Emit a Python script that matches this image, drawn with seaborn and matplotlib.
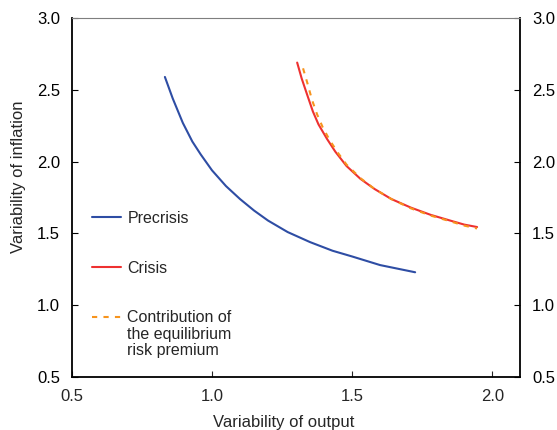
## Import necessary packages
import numpy as np
import pandas as pd
import matplotlib
matplotlib.use('Agg')
import matplotlib.pyplot as plt
import seaborn as sns

## Values
precrisis_x = [0.832, 0.86, 0.896, 0.93, 0.96, 1.0, 1.05, 1.1, 1.15, 1.2, 1.27, 1.35, 1.43, 1.5, 1.6, 1.725]
precrisis_y = [2.59, 2.44, 2.27, 2.14, 2.05, 1.94, 1.83, 1.74, 1.66, 1.59, 1.51, 1.44, 1.38, 1.34, 1.28, 1.23]

crisis_x = [1.304, 1.32, 1.339, 1.36, 1.38, 1.41, 1.44, 1.48, 1.53, 1.58, 1.64, 1.71, 1.78, 1.85, 1.90, 1.946]
crisis_y = [2.69, 2.58, 2.47, 2.35, 2.26, 2.16, 2.07, 1.97, 1.88, 1.81, 1.74, 1.68, 1.63, 1.59, 1.562, 1.545]

premium_x = [1.325, 1.34, 1.357, 1.375, 1.395, 1.42, 1.45, 1.48, 1.53, 1.58, 1.64, 1.71, 1.78, 1.85, 1.90, 1.946]
premium_y = [2.65, 2.55, 2.43, 2.33, 2.24, 2.15, 2.06, 1.98, 1.885, 1.81, 1.74, 1.675, 1.625, 1.585, 1.555, 1.535]

x_ticks = [0.5, 1.0, 1.5, 2.0]
y_ticks = [0.5, 1.0, 1.5, 2.0, 2.5, 3.0]

sns.set_style('ticks')
plt.rcParams['font.family'] = ['Liberation Sans', 'DejaVu Sans']
plt.rcParams['font.size'] = 12

fig = plt.figure(figsize=(5.57, 4.30), dpi=100)
ax = fig.add_axes([0.129, 0.123, 0.805, 0.835])

sns.lineplot(x=precrisis_x, y=precrisis_y, sort=False, color='#2E4DA4', lw=1.5, ax=ax, label='Precrisis')
sns.lineplot(x=crisis_x, y=crisis_y, sort=False, color='#EE3130', lw=1.5, ax=ax, label='Crisis')
sns.lineplot(x=premium_x, y=premium_y, sort=False, color='#F7941D', lw=1.5, ax=ax,
             label='Contribution of', linestyle=(0, (2.5, 3)))

ax.set_xlim(0.5, 2.1)
ax.set_ylim(0.5, 3.0)
ax.set_xticks(x_ticks)
ax.set_yticks(y_ticks)
ax.xaxis.set_major_formatter(plt.FuncFormatter(lambda v, loc: '{:.1f}'.format(v)))
ax.yaxis.set_major_formatter(plt.FuncFormatter(lambda v, loc: '{:.1f}'.format(v)))

ax.tick_params(axis='y', direction='in', length=4, width=0.8, left=True, right=True,
               labelleft=True, labelright=True, pad=8.5, labelsize=12, colors='black')
ax.tick_params(axis='x', direction='in', length=4, width=0.8, top=False, pad=8.5, labelsize=12)

for side in ['left', 'bottom', 'right']:
    ax.spines[side].set_color('black')
    ax.spines[side].set_linewidth(1.3)
ax.spines['top'].set_color('#7f7f7f')
ax.spines['top'].set_linewidth(0.8)

ax.set_xlabel('Variability of output', fontsize=12)
ax.set_ylabel('Variability of inflation', fontsize=12)
ax.xaxis.set_label_coords(0.473, -0.106)
ax.yaxis.set_label_coords(-0.102, 0.557)

leg = ax.legend(loc='upper left', bbox_to_anchor=(0.0446, 0.463), frameon=False,
                borderpad=0, borderaxespad=0, handlelength=1.85, handletextpad=0.38,
                labelspacing=2.17, fontsize=11.5)

## continuation lines of the third legend label, aligned under its first line
fig.canvas.draw()
bb = leg.get_texts()[2].get_window_extent()
cy = (bb.y0 + bb.y1) / 2
pos = ax.transAxes.inverted().transform((bb.x0, cy - 25))
ax.text(pos[0], pos[1], 'the equilibrium\nrisk premium', transform=ax.transAxes,
        ha='left', va='center', fontsize=11.5, linespacing=1.05)

fig.savefig('out.png', dpi=100)
